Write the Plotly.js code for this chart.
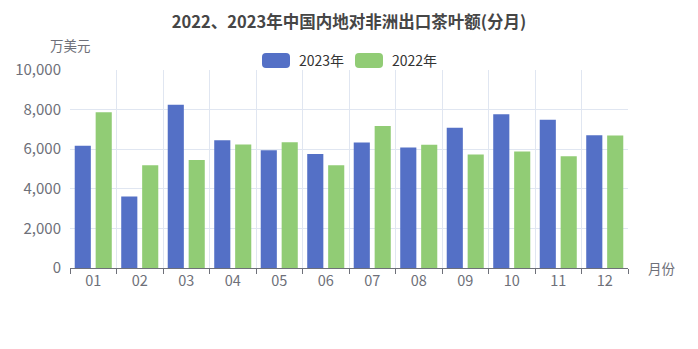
<!DOCTYPE html>
<html>
<head>
<meta charset="utf-8">
<script src="https://cdn.plot.ly/plotly-3.0.1.min.js"></script>
<style>html,body{margin:0;padding:0;background:#fff;}#chart{width:698px;height:349px;}</style>
</head>
<body>
<div id="chart"></div>
<script>
const months = ["01","02","03","04","05","06","07","08","09","10","11","12"];
const values2023 = [6180, 3610, 8250, 6450, 5950, 5760, 6340, 6090, 7080, 7760, 7490, 6710];
const values2022 = [7870, 5190, 5450, 6240, 6350, 5190, 7170, 6220, 5730, 5890, 5650, 6690];
const seriesNames = ["2023年", "2022年"];
const colors = ["#5470c6", "#91cc75"];

const W = 698, H = 349;
const M = {l: 70, r: 70, t: 70, b: 81};
const pw = W - M.l - M.r, ph = H - M.t - M.b;
const px = x => (x - M.l) / pw;
const py = y => (H - M.b - y) / ph;
const FONT = '"Noto Sans CJK SC", "Noto Sans", sans-serif';

function roundRect(x0, y0, x1, y1, r) {
  const X = v => px(v), Y = v => py(v);
  return `M${X(x0+r)},${Y(y0)} L${X(x1-r)},${Y(y0)} Q${X(x1)},${Y(y0)} ${X(x1)},${Y(y0+r)} ` +
         `L${X(x1)},${Y(y1-r)} Q${X(x1)},${Y(y1)} ${X(x1-r)},${Y(y1)} L${X(x0+r)},${Y(y1)} ` +
         `Q${X(x0)},${Y(y1)} ${X(x0)},${Y(y1-r)} L${X(x0)},${Y(y0+r)} Q${X(x0)},${Y(y0)} ${X(x0+r)},${Y(y0)} Z`;
}

const traces = [
  {type: 'bar', x: months, y: values2023, name: seriesNames[0], marker: {color: colors[0], line: {width: 0}}},
  {type: 'bar', x: months, y: values2022, name: seriesNames[1], marker: {color: colors[1], line: {width: 0}}}
];

const legendItems = [
  {box: [262, 53, 290, 68], tx: 297},
  {box: [355, 53, 383, 68], tx: 390}
];
const shapes = legendItems.map((it, i) => ({
  type: 'path', xref: 'paper', yref: 'paper',
  path: roundRect(it.box[0], it.box[1], it.box[2], it.box[3], 4),
  fillcolor: colors[i], line: {width: 0}
}));
const annotations = legendItems.map((it, i) => ({
  xref: 'paper', yref: 'paper', x: px(it.tx), y: py(60.5), xanchor: 'left', yanchor: 'middle',
  text: seriesNames[i], showarrow: false, font: {family: FONT, size: 14, color: '#333'}
}));
annotations.push({
  xref: 'paper', yref: 'paper', x: px(70), y: py(45), xanchor: 'center', yanchor: 'middle',
  text: '万美元', showarrow: false, font: {family: FONT, size: 13.5, color: '#6e7079'}
});
annotations.push({
  xref: 'paper', yref: 'paper', x: px(646), y: py(268), xanchor: 'left', yanchor: 'middle',
  text: '月份', showarrow: false, font: {family: FONT, size: 13.5, color: '#6e7079'}
});

const layout = {
  width: W, height: H,
  margin: M,
  paper_bgcolor: '#fff', plot_bgcolor: '#fff',
  font: {family: FONT, color: '#6e7079'},
  title: {text: '<b>2022、2023年中国内地对非洲出口茶叶额(分月)</b>', x: 0.5, xanchor: 'center', y: 1 - 22/H, yanchor: 'middle',
          font: {family: FONT, size: 16.5, color: '#464646'}},
  showlegend: false,
  barmode: 'group', bargap: 0.1, bargroupgap: 0.23,
  xaxis: {
    type: 'category', tickson: 'boundaries', ticks: 'outside', ticklen: 5, tickcolor: '#6e7079',
    showline: true, linecolor: '#6e7079', linewidth: 1,
    showgrid: true, gridcolor: '#e0e6f1', zeroline: false,
    tickfont: {family: FONT, size: 14.5, color: '#6e7079'}, fixedrange: true
  },
  yaxis: {
    range: [0, 10000], tickvals: [0, 2000, 4000, 6000, 8000, 10000], tickformat: ',d',
    showgrid: true, gridcolor: '#e0e6f1', zeroline: false, showline: false, ticks: '',
    ticklabelstandoff: 8,
    tickfont: {family: FONT, size: 15, color: '#6e7079'}, fixedrange: true
  },
  shapes: shapes,
  annotations: annotations
};

Plotly.newPlot('chart', traces, layout, {displayModeBar: false, staticPlot: true});
</script>
</body>
</html>
